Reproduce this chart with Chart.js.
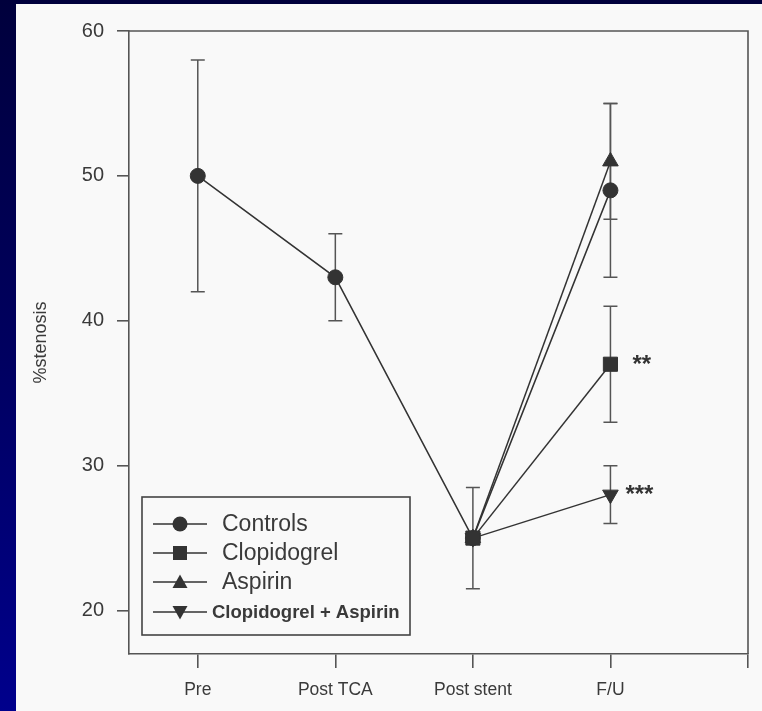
<!DOCTYPE html>
<html>
<head>
<meta charset="utf-8">
<script src="https://cdn.jsdelivr.net/npm/chart.js@4.4.1/dist/chart.umd.min.js"></script>
<style>
  html, body { margin: 0; padding: 0; }
  body {
    width: 762px; height: 711px; overflow: hidden;
    background: linear-gradient(to bottom, #00003c 0%, #000060 50%, #00008c 100%);
    position: relative;
  }
  #wrap { position: absolute; left: 16px; top: 4px; width: 746px; height: 707px; background: #f9f9f9; }
</style>
</head>
<body>
<div id="wrap"><canvas id="myChart" width="746" height="707"></canvas></div>
<script>
let stages = ["Pre", "Post TCA", "Post stent", "F/U"]
let yTicks = [20, 30, 40, 50, 60]

let controls = [50, 43, 25, 49]
let clopidogrel = [null, null, 25, 37]
let aspirin = [null, null, 25, 51]
let combo = [null, null, 25, 28]

// half-width of the error bars (SD), same order as stages
let controlsErr = [8, 3, 3.5, 6]
let clopidogrelErr = [null, null, null, 4]
let aspirinErr = [null, null, null, 4]
let comboErr = [null, null, null, 2]

let seriesNames = ["Controls", "Clopidogrel", "Aspirin", "Clopidogrel + Aspirin"]
let sigMarks = [null, "**", null, "***"]

const ink = "#333"
const font = "'Liberation Sans', Arial, sans-serif"

function pts(arr) {
    return arr.map((v, i) => ({ x: i, y: v }))
}

function ds(label, arr, style, rot, radius, order) {
    return {
        label: label,
        data: pts(arr),
        borderColor: ink,
        borderWidth: 1.5,
        backgroundColor: ink,
        pointStyle: style,
        pointRotation: rot,
        pointRadius: radius,
        pointBorderWidth: 1,
        pointBorderColor: ink,
        pointBackgroundColor: ink,
        fill: false,
        tension: 0,
        order: order
    }
}

const errSets = [controlsErr, clopidogrelErr, aspirinErr, comboErr]

const errorBars = {
    id: "errorBars",
    beforeDatasetsDraw(chart) {
        const { ctx, scales: { x, y } } = chart
        ctx.save()
        ctx.strokeStyle = "#555"
        ctx.lineWidth = 1.5
        chart.data.datasets.forEach((d, k) => {
            errSets[k].forEach((e, i) => {
                const v = d.data[i].y
                if (e == null || v == null) return
                const px = x.getPixelForValue(i)
                const top = y.getPixelForValue(v + e)
                const bot = y.getPixelForValue(v - e)
                ctx.beginPath()
                ctx.moveTo(px, top); ctx.lineTo(px, bot)
                ctx.moveTo(px - 7, top); ctx.lineTo(px + 7, top)
                ctx.moveTo(px - 7, bot); ctx.lineTo(px + 7, bot)
                ctx.stroke()
            })
        })
        ctx.restore()
    }
}

function marker(ctx, style, cx, cy, r) {
    ctx.beginPath()
    if (style === "circle") {
        ctx.arc(cx, cy, r, 0, Math.PI * 2)
    } else if (style === "rect") {
        ctx.rect(cx - r, cy - r, r * 2, r * 2)
    } else if (style === "up") {
        ctx.moveTo(cx, cy - r); ctx.lineTo(cx + r, cy + r * 0.8); ctx.lineTo(cx - r, cy + r * 0.8)
    } else {
        ctx.moveTo(cx, cy + r); ctx.lineTo(cx + r, cy - r * 0.8); ctx.lineTo(cx - r, cy - r * 0.8)
    }
    ctx.closePath()
    ctx.fill()
}

const frameAndLegend = {
    id: "frameAndLegend",
    afterDraw(chart) {
        const { ctx, chartArea: a, scales: { x, y } } = chart
        ctx.save()
        // top and right edges of the plot frame
        ctx.strokeStyle = "#555"
        ctx.lineWidth = 1.6
        ctx.beginPath()
        ctx.moveTo(a.left, a.top); ctx.lineTo(a.right, a.top); ctx.lineTo(a.right, a.bottom)
        ctx.stroke()

        // significance stars at F/U
        ctx.fillStyle = ink
        ctx.font = "bold 24px " + font
        ctx.textBaseline = "middle"
        const last = stages.length - 1
        chart.data.datasets.forEach((d, k) => {
            if (!sigMarks[k]) return
            const off = sigMarks[k].length === 2 ? 22 : 15
            ctx.fillText(sigMarks[k], x.getPixelForValue(last) + off, y.getPixelForValue(d.data[last].y) + 1)
        })

        // legend box, lower left of the plot
        const bx = a.left + 13, bw = 268, bh = 138
        const by = a.bottom - 19 - bh
        ctx.strokeStyle = "#444"
        ctx.lineWidth = 1.6
        ctx.strokeRect(bx, by, bw, bh)
        const styles = ["circle", "rect", "up", "down"]
        const rowY = [27, 56, 85, 115]
        seriesNames.forEach((name, k) => {
            const ry = by + rowY[k]
            ctx.strokeStyle = ink
            ctx.lineWidth = 1.5
            ctx.beginPath()
            ctx.moveTo(bx + 11, ry); ctx.lineTo(bx + 65, ry)
            ctx.stroke()
            ctx.fillStyle = ink
            marker(ctx, styles[k], bx + 38, ry, k === 1 ? 7 : 7.5)
            ctx.fillStyle = "#3a3a3a"
            if (k === 3) {
                ctx.font = "bold 18.5px " + font
                ctx.fillText(name, bx + 70, ry + 1)
            } else {
                ctx.font = "23px " + font
                ctx.fillText(name, bx + 80, ry + 1)
            }
        })
        ctx.restore()
    }
}

new Chart("myChart", {
    type: "line",
    data: {
        datasets: [
            ds(seriesNames[0], controls, "circle", 0, 7.5, 2),
            ds(seriesNames[1], clopidogrel, "rect", 0, 10, 0),
            ds(seriesNames[2], aspirin, "triangle", 0, 9, 1),
            ds(seriesNames[3], combo, "triangle", 180, 9, 1)
        ]
    },
    options: {
        responsive: false,
        animation: false,
        layout: { padding: { top: 27, right: 14, left: 0, bottom: 0 } },
        plugins: {
            legend: { display: false },
            tooltip: { enabled: false }
        },
        scales: {
            x: {
                type: "linear",
                min: -0.5,
                max: 4,
                afterBuildTicks: (s) => { s.ticks = [0, 1, 2, 3, 4].map(v => ({ value: v })) },
                afterFit: (s) => { s.height = 57 },
                ticks: {
                    callback: (v) => stages[v] || "",
                    color: "#3a3a3a",
                    font: { family: font, size: 17.5 },
                    padding: 12,
                    maxRotation: 0
                },
                grid: { display: true, drawOnChartArea: false, tickLength: 14, color: "#555", lineWidth: 1.6 },
                border: { color: "#555", width: 1.6 }
            },
            y: {
                min: 17,
                max: 60,
                afterBuildTicks: (s) => { s.ticks = yTicks.map(v => ({ value: v })) },
                afterFit: (s) => { s.width = 113 },
                ticks: {
                    color: "#3a3a3a",
                    font: { family: font, size: 20 },
                    padding: 13
                },
                grid: { display: true, drawOnChartArea: false, tickLength: 12, color: "#555", lineWidth: 1.6 },
                border: { color: "#555", width: 1.6 },
                title: {
                    display: true,
                    text: "%stenosis",
                    color: "#3a3a3a",
                    font: { family: font, size: 18 },
                    padding: { top: 14, bottom: 0 }
                }
            }
        }
    },
    plugins: [errorBars, frameAndLegend]
})
</script>
</body>
</html>
